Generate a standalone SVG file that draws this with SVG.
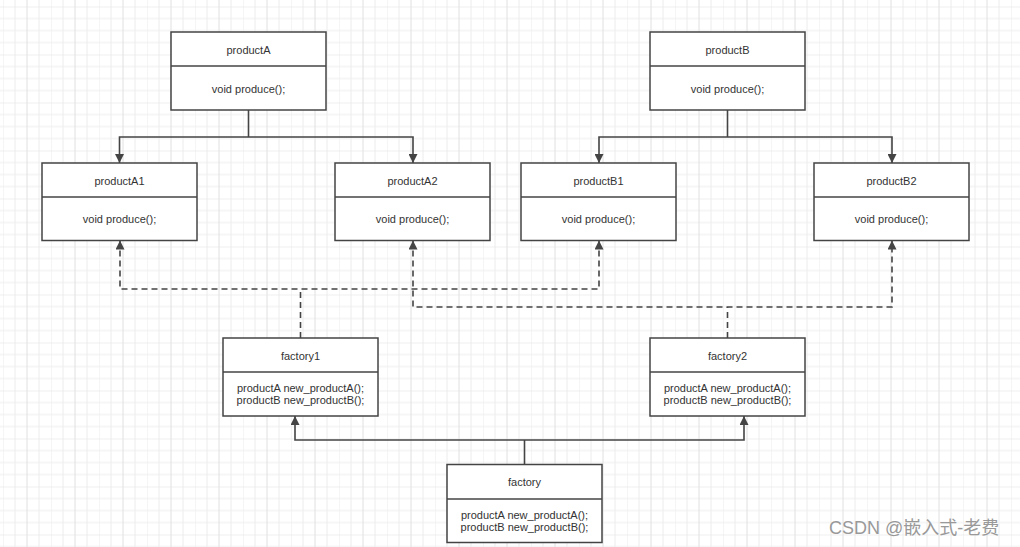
<svg xmlns="http://www.w3.org/2000/svg" width="1020" height="547" viewBox="0 0 1020 547">
<style>
.box{fill:#fff;stroke:#444;stroke-width:1.5}
.div{stroke:#444;stroke-width:1.5}
.t{font-family:"Liberation Sans","Noto Sans",Arial,sans-serif;font-size:11px;fill:#333;text-anchor:middle;dominant-baseline:central}
.solid{fill:none;stroke:#444;stroke-width:1.6}
.dash{fill:none;stroke:#444;stroke-width:1.6;stroke-dasharray:6,4}
.wm{font-family:"Liberation Sans","Noto Sans CJK SC",sans-serif;font-size:18px;fill:#999}
</style>
<defs>
<pattern id="grid" x="3" y="6.5" width="48" height="48" patternUnits="userSpaceOnUse">
<path d="M0 12H48M0 24H48M0 36H48M12 0V48M36 0V48M0 0V48" fill="none" stroke="#ececec" stroke-width="1"/>
<path d="M24 0V48M0 0H48" fill="none" stroke="#e0e0e0" stroke-width="1"/>
</pattern>
<marker id="arr" viewBox="0 0 10 10" refX="10" refY="5" markerWidth="9" markerHeight="9" markerUnits="userSpaceOnUse" orient="auto-start-reverse">
<path d="M0 0L10 5L0 10Z" fill="#444"/>
</marker>
</defs>
<rect width="1020" height="547" fill="#fff"/>
<rect width="1020" height="547" fill="url(#grid)"/>

<g id="connectors">
<path class="solid" d="M248.5 110V137"/>
<path class="solid" d="M119.5 163V137H413V163" marker-start="url(#arr)" marker-end="url(#arr)"/>
<path class="solid" d="M727.5 110V137"/>
<path class="solid" d="M599 163V137H892V163" marker-start="url(#arr)" marker-end="url(#arr)"/>
<path class="dash" d="M300.5 338V289"/>
<path class="dash" d="M120 240.5V289H599V240.5" marker-start="url(#arr)" marker-end="url(#arr)"/>
<path class="dash" d="M727.5 338V307"/>
<path class="dash" d="M413 240.5V307H892V240.5" marker-start="url(#arr)" marker-end="url(#arr)"/>
<path class="solid" d="M524.5 464V440"/>
<path class="solid" d="M295 416V440H744V416" marker-start="url(#arr)" marker-end="url(#arr)"/>
</g>

<g id="productA">
<rect class="box" x="171" y="32" width="155" height="78"/>
<line class="div" x1="171" y1="66" x2="326" y2="66"/>
<text class="t" x="248.5" y="49.5">productA</text>
<text class="t" x="248.5" y="88.5">void produce();</text>
</g>
<g id="productB">
<rect class="box" x="650" y="32" width="155" height="78"/>
<line class="div" x1="650" y1="66" x2="805" y2="66"/>
<text class="t" x="727.5" y="49.5">productB</text>
<text class="t" x="727.5" y="88.5">void produce();</text>
</g>
<g id="productA1">
<rect class="box" x="42" y="163" width="155" height="77.5"/>
<line class="div" x1="42" y1="197" x2="197" y2="197"/>
<text class="t" x="119.5" y="180.5">productA1</text>
<text class="t" x="119.5" y="219">void produce();</text>
</g>
<g id="productA2">
<rect class="box" x="335" y="163" width="155" height="77.5"/>
<line class="div" x1="335" y1="197" x2="490" y2="197"/>
<text class="t" x="412.5" y="180.5">productA2</text>
<text class="t" x="412.5" y="219">void produce();</text>
</g>
<g id="productB1">
<rect class="box" x="521" y="163" width="155" height="77.5"/>
<line class="div" x1="521" y1="197" x2="676" y2="197"/>
<text class="t" x="598.5" y="180.5">productB1</text>
<text class="t" x="598.5" y="219">void produce();</text>
</g>
<g id="productB2">
<rect class="box" x="814" y="163" width="155" height="77.5"/>
<line class="div" x1="814" y1="197" x2="969" y2="197"/>
<text class="t" x="891.5" y="180.5">productB2</text>
<text class="t" x="891.5" y="219">void produce();</text>
</g>
<g id="factory1">
<rect class="box" x="223" y="338" width="155" height="78"/>
<line class="div" x1="223" y1="372" x2="378" y2="372"/>
<text class="t" x="300.5" y="355.5">factory1</text>
<text class="t" x="300.5" y="388">productA new_productA();</text>
<text class="t" x="300.5" y="400">productB new_productB();</text>
</g>
<g id="factory2">
<rect class="box" x="650" y="338" width="155" height="78"/>
<line class="div" x1="650" y1="372" x2="805" y2="372"/>
<text class="t" x="727.5" y="355.5">factory2</text>
<text class="t" x="727.5" y="388">productA new_productA();</text>
<text class="t" x="727.5" y="400">productB new_productB();</text>
</g>
<g id="factory">
<rect class="box" x="447" y="464.5" width="155" height="78"/>
<line class="div" x1="447" y1="499" x2="602" y2="499"/>
<text class="t" x="524.5" y="482">factory</text>
<text class="t" x="524.5" y="514.5">productA new_productA();</text>
<text class="t" x="524.5" y="526.5">productB new_productB();</text>
</g>
<text class="wm" x="829" y="534">CSDN @嵌入式-老费</text>
</svg>
